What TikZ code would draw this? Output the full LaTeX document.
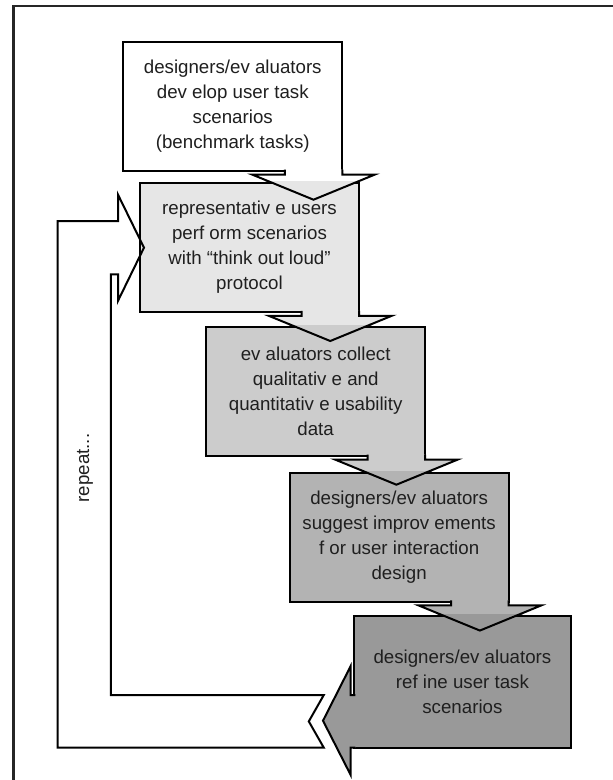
\documentclass[tikz,border=0pt]{standalone}
\usepackage{fontspec}
\setmainfont{Liberation Sans}
\usetikzlibrary{backgrounds}
\definecolor{shadeA}{HTML}{FFFFFF}
\definecolor{shadeB}{HTML}{E6E6E6}
\definecolor{shadeC}{HTML}{CCCCCC}
\definecolor{shadeD}{HTML}{B3B3B3}
\definecolor{shadeE}{HTML}{999999}
% arrow below a box, and the band back to the second box
\newcommand\stepshape[1]{([xshift=-57.5pt,yshift=1.5pt]#1.south east) -- ++(0,5) -- ++(-32.75,0) -- ++(61.5,25.2) -- ++(61.5,-25.2) -- ++(-32.75,0) -- ++(0,-5)}
\newcommand\loopshape{([xshift=4pt]b2.west) -- ++(-26,-53) -- ++(0,26.5) -- ++(-60.5,0) |- ([xshift=-30pt]b5.south west) -- ++(-15,-26.3) -- ++(15,-26.4) -| ++(-213,-420.7) -- ++(7.2,0) -- ++(0,26.5) -- cycle}
\begin{document}
\begin{tikzpicture}[x=1pt,y=-1pt,line width=2pt,
  txt/.style={text=black!88,font=\fontsize{18.7pt}{25pt}\selectfont},
  stepbox/.style={txt,draw,inner sep=0pt,outer sep=0pt,minimum width=219pt,minimum height=129.3pt,align=center}]
\useasboundingbox (0,0) rectangle (613,780);
\draw[line width=2.5pt,black!85] (13.5,6) rectangle (640,800);

\node[stepbox,fill=shadeA] (b1) at (232.75,106.35) {designers/ev aluators\\dev elop user task\\scenarios\\(benchmark tasks)};
\filldraw[fill=shadeA] \stepshape{b1};

\node[stepbox,fill=shadeB] (b2) at (249.5,247.65) {representativ e users\\perf orm scenarios\\with “think out loud”\\protocol};
\begin{scope}
  \clip ([yshift=1.5pt]b2.north west) rectangle (b2.south east);
  \filldraw[fill=shadeB] \stepshape{b1};
\end{scope}
\filldraw[fill=shadeB] \stepshape{b2};

\node[stepbox,fill=shadeC] (b3) at (315.65,391.35) {ev aluators collect\\qualitativ e and\\quantitativ e usability\\data};
\begin{scope}
  \clip ([yshift=1.5pt]b3.north west) rectangle (b3.south east);
  \filldraw[fill=shadeC] \stepshape{b2};
\end{scope}
\filldraw[fill=shadeC] \stepshape{b3};

\node[stepbox,fill=shadeD] (b4) at (399.15,537.2) {designers/ev aluators\\suggest improv ements\\f or user interaction\\design};
\begin{scope}
  \clip ([yshift=1.5pt]b4.north west) rectangle (b4.south east);
  \filldraw[fill=shadeD] \stepshape{b3};
\end{scope}
\filldraw[fill=shadeD] \stepshape{b4};

\node[stepbox,fill=shadeE,minimum width=217.2pt,minimum height=131.7pt] (b5) at (462.4,681.85) {designers/ev aluators\\ref ine user task\\scenarios};
\begin{scope}
  \clip ([yshift=1.5pt]b5.north west) rectangle (b5.south east);
  \filldraw[fill=shadeE] \stepshape{b4};
\end{scope}
\filldraw[fill=shadeE] ([xshift=1.5pt,yshift=52.7pt]b5.south west) -- ++(-4.6,0) -- ++(0,-29) -- ++(-27.7,54.7) -- ++(27.7,54.3) -- ++(0,-27.3) -- ++(4.6,0);

\begin{scope}[on background layer]
  \filldraw[line width=2pt,draw=black,fill=white] \loopshape;
\end{scope}
\begin{scope}
  \clip (b2.north west) rectangle (b2.south east);
  \draw \loopshape;
\end{scope}
\node[txt,rotate=90] (again) at (85,468) {repeat...};
\end{tikzpicture}
\end{document}
